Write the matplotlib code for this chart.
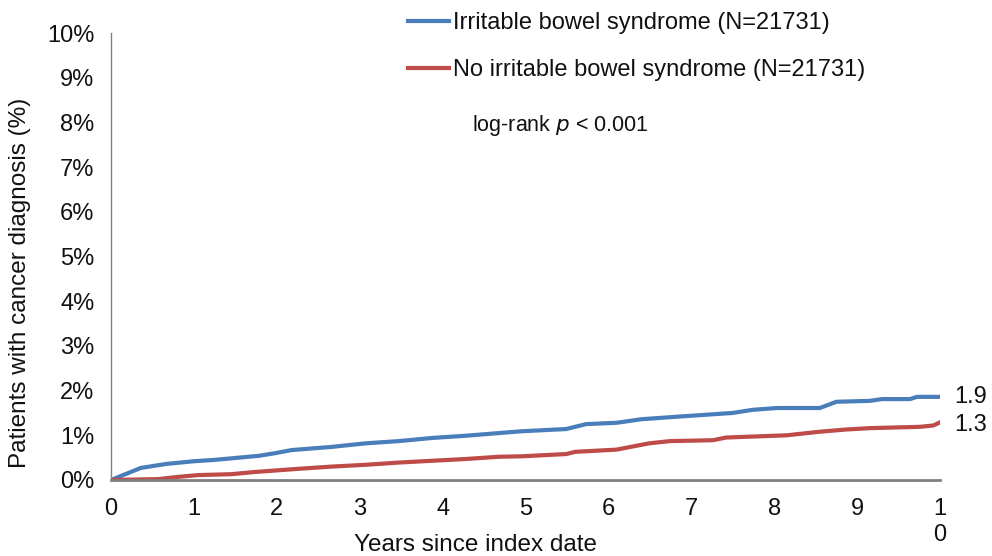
import matplotlib
matplotlib.use("Agg")
import matplotlib.pyplot as plt
from matplotlib.ticker import FuncFormatter

plt.rcParams['font.family'] = ['Liberation Sans', 'DejaVu Sans']

# Data (years since index date, cumulative % with cancer diagnosis)
ibs_years = [0, 0.36, 0.67, 1.0, 1.25, 1.6, 1.78, 1.98, 2.18, 2.66, 3.07, 3.47, 3.87,
             4.28, 4.68, 4.95, 5.49, 5.73, 6.1, 6.4, 6.94, 7.5, 7.74, 8.03, 8.55,
             8.75, 9.15, 9.3, 9.64, 9.72, 10.0]
ibs_pct = [0.0, 0.27, 0.36, 0.42, 0.45, 0.51, 0.54, 0.60, 0.67, 0.74, 0.82, 0.87, 0.94,
           0.99, 1.05, 1.09, 1.14, 1.25, 1.28, 1.36, 1.43, 1.50, 1.57, 1.61, 1.61,
           1.75, 1.77, 1.81, 1.81, 1.86, 1.86]

noibs_years = [0, 0.57, 0.81, 1.05, 1.45, 1.74, 2.26, 2.66, 3.07, 3.47, 3.87, 4.28,
               4.68, 4.95, 5.49, 5.6, 6.1, 6.49, 6.74, 7.26, 7.42, 8.15, 8.55, 8.87,
               9.15, 9.76, 9.92, 10.0]
noibs_pct = [0.0, 0.02, 0.07, 0.11, 0.13, 0.18, 0.25, 0.30, 0.34, 0.39, 0.43, 0.47,
             0.52, 0.53, 0.58, 0.63, 0.68, 0.82, 0.87, 0.89, 0.95, 1.00, 1.08, 1.13,
             1.16, 1.19, 1.22, 1.29]

series_labels = ["Irritable bowel syndrome (N=21731)",
                 "No irritable bowel syndrome (N=21731)"]
end_labels = ["1.9", "1.3"]
x_ticks = list(range(0, 11))
x_ticklabels = [str(v) for v in range(0, 10)] + ["1\n0"]
y_ticks = list(range(0, 11))

blue = "#4A7EBB"
red = "#BE4B48"

fig = plt.figure(figsize=(9.92, 5.56), dpi=100)
ax = fig.add_axes([111/992, 1 - 480/556, 829/992, 447/556])

l1, = ax.plot(ibs_years, ibs_pct, color=blue, lw=3.0, solid_joinstyle='round')
l2, = ax.plot(noibs_years, noibs_pct, color=red, lw=3.0, solid_joinstyle='round')

ax.set_xlim(0, 10)
ax.set_ylim(0, 10)
ax.set_xticks(x_ticks)
ax.set_xticklabels(x_ticklabels, linespacing=1.25)
ax.set_yticks(y_ticks)
ax.yaxis.set_major_formatter(FuncFormatter(lambda v, p: f"{int(v)}%"))
ax.tick_params(axis='both', length=0, labelsize=17, colors='#111111')
ax.tick_params(axis='x', pad=13)
ax.tick_params(axis='y', pad=12)

for s in ['top', 'right']:
    ax.spines[s].set_visible(False)
ax.spines['left'].set_color('#808080')
ax.spines['left'].set_linewidth(1.0)
ax.spines['bottom'].set_color('#808080')
ax.spines['bottom'].set_linewidth(2.0)

# End-point labels
ax.annotate(end_labels[0], xy=(ibs_years[-1], ibs_pct[-1]), xytext=(10, 0),
            textcoords='offset points', va='center', ha='left', fontsize=17,
            color='#111111', annotation_clip=False)
ax.annotate(end_labels[1], xy=(noibs_years[-1], noibs_pct[-1]), xytext=(10, -2),
            textcoords='offset points', va='center', ha='left', fontsize=17,
            color='#111111', annotation_clip=False)

leg = ax.legend([l1, l2], series_labels, loc='upper left',
                bbox_to_anchor=(408/992, 1 - 12/556), bbox_transform=fig.transFigure,
                frameon=False, fontsize=17, handlelength=1.75, handletextpad=0.15,
                labelspacing=1.05, borderpad=0, borderaxespad=0)
for t in leg.get_texts():
    t.set_color('#111111')

ax.text(472/992, 1 - 126/556, r"log-rank $\it{p}$ < 0.001", transform=fig.transFigure,
        fontsize=15.5, va='center', ha='left', color='#111111')

fig.text(20/992, 1 - 283/556, "Patients with cancer diagnosis (%)", rotation=90,
         ha='center', va='center', fontsize=17.5, color='#111111')
fig.text(475/992, 1 - 545/556, "Years since index date", ha='center', va='center',
         fontsize=17.5, color='#111111')

fig.savefig("out.png", dpi=100)
